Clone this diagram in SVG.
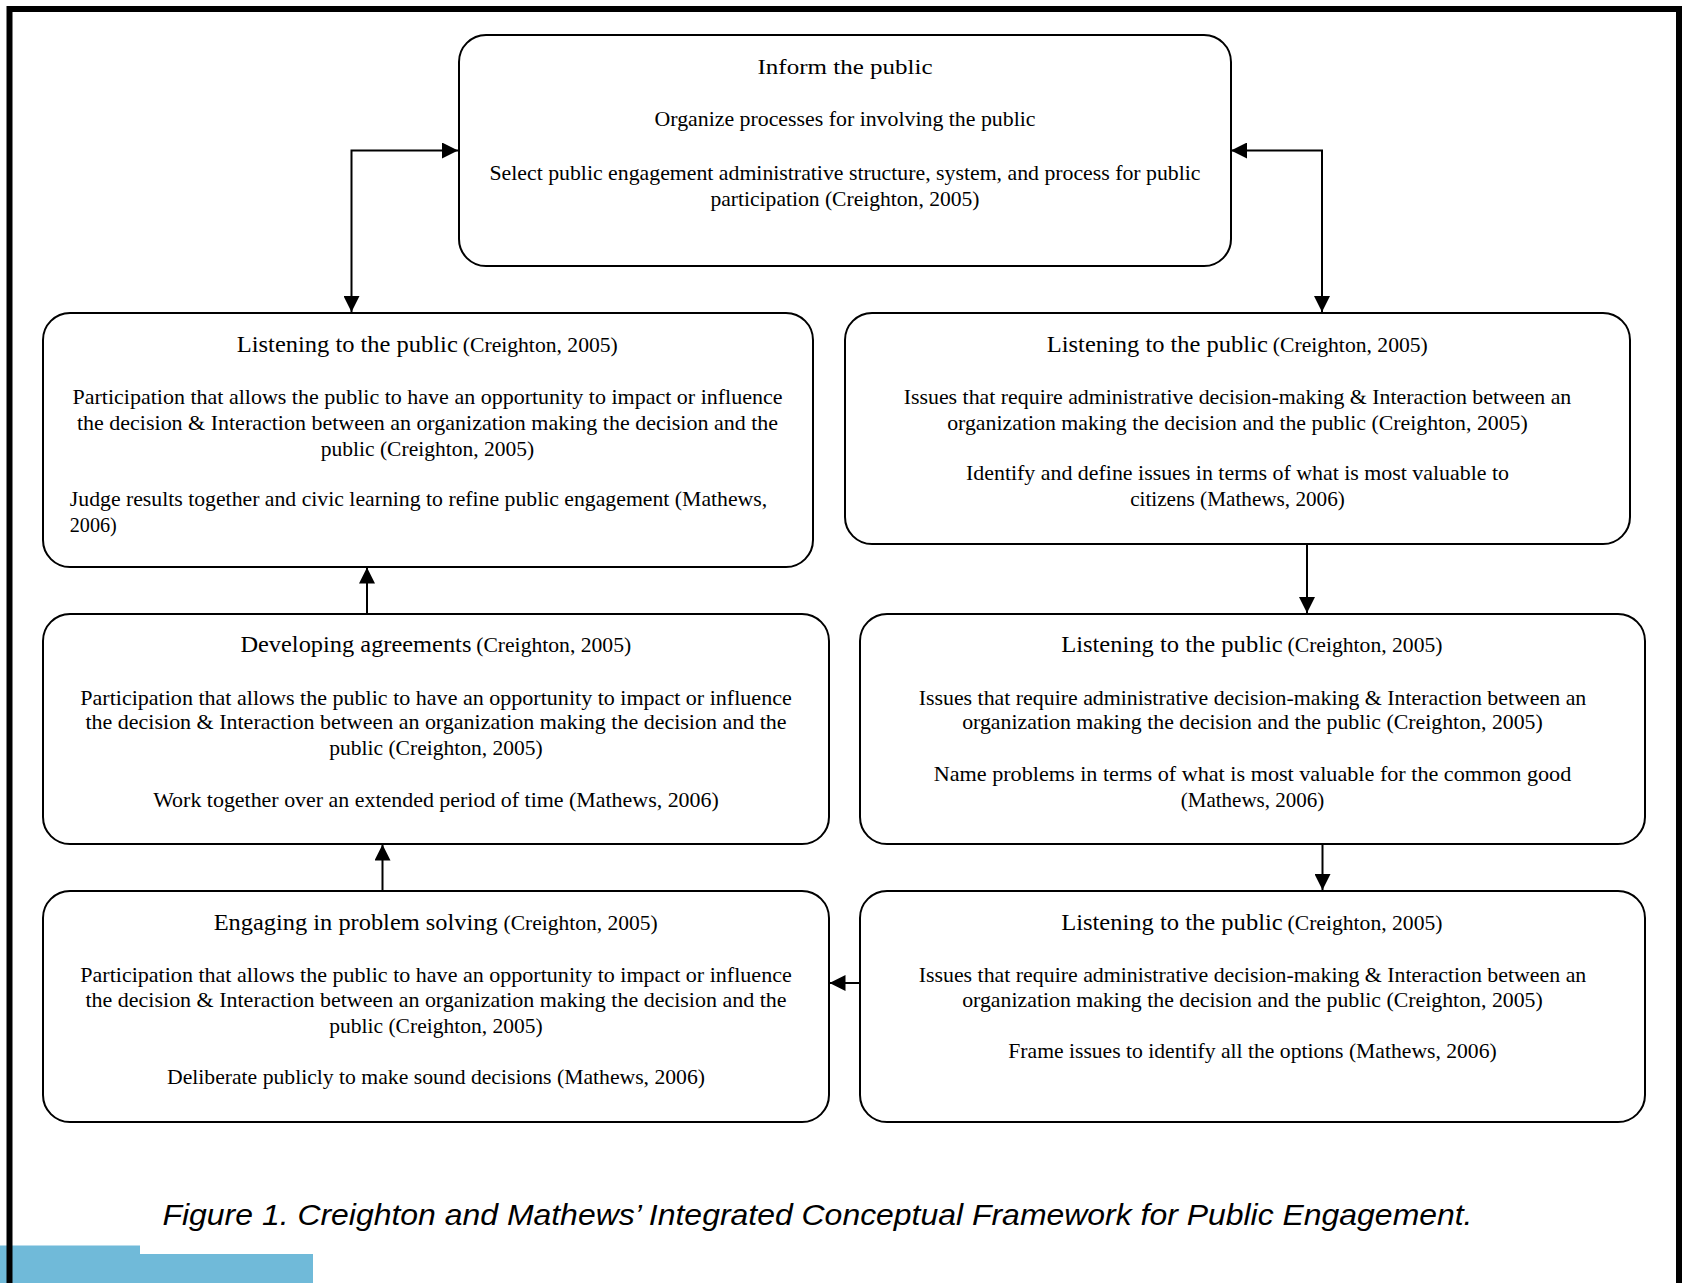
<svg xmlns="http://www.w3.org/2000/svg" width="1683" height="1283" viewBox="0 0 1683 1283">
<style>
.box{fill:#fff;stroke:#000;stroke-width:2}
.c{font-family:"Liberation Serif","Times New Roman",serif;font-size:21px;fill:#000;text-anchor:middle}
.s{font-family:"Liberation Serif","Times New Roman",serif;font-size:21px;fill:#000;text-anchor:start}
.h{font-size:24px}
.conn{fill:none;stroke:#000;stroke-width:2}
.cap{font-family:"Liberation Sans",Arial,sans-serif;font-style:italic;font-size:29px;fill:#000}
</style>
<defs>
<marker id="ah" markerUnits="userSpaceOnUse" markerWidth="16" markerHeight="16" viewBox="0 0 15 15" refX="15" refY="7.5" orient="auto-start-reverse">
<path d="M0,0 L15,7.5 L0,15 z" fill="#000"/>
</marker>
</defs>
<rect width="1683" height="1283" fill="#fff"/>
<rect x="0" y="1245.5" width="140" height="38" fill="#70bad9"/>
<rect x="140" y="1254" width="173" height="29" fill="#70bad9"/>
<path d="M9.5,1283 V9 H1679 V1283" fill="none" stroke="#000" stroke-width="6"/>

<g id="connectors">
<path class="conn" d="M458,150.5 H351.5 V312" marker-start="url(#ah)" marker-end="url(#ah)"/>
<path class="conn" d="M1231,150.5 H1322 V312" marker-start="url(#ah)" marker-end="url(#ah)"/>
<path class="conn" d="M1307,544 V613" marker-end="url(#ah)"/>
<path class="conn" d="M1322.5,844 V890" marker-end="url(#ah)"/>
<path class="conn" d="M860,983 H829.5" marker-end="url(#ah)"/>
<path class="conn" d="M382.5,891 V844.5" marker-end="url(#ah)"/>
<path class="conn" d="M367,613 V567.5" marker-end="url(#ah)"/>
</g>

<g id="inform">
<rect class="box" x="459" y="35" width="772" height="231" rx="27"/>
<text class="c" x="845" y="73.6" font-size="22" textLength="175" lengthAdjust="spacingAndGlyphs">Inform the public</text>
<text class="c" x="845" y="126.2" textLength="381" lengthAdjust="spacingAndGlyphs">Organize processes for involving the public</text>
<text class="c" x="845" y="179.9" textLength="711" lengthAdjust="spacingAndGlyphs">Select public engagement administrative structure, system, and process for public</text>
<text class="c" x="845" y="205.6" textLength="269" lengthAdjust="spacingAndGlyphs">participation (Creighton, 2005)</text>
</g>

<g id="listen-left">
<rect class="box" x="43" y="313" width="770" height="254" rx="27"/>
<text class="s" y="351.6"><tspan class="h" x="236.8" textLength="221" lengthAdjust="spacingAndGlyphs">Listening to the public</tspan><tspan x="462.8" textLength="155" lengthAdjust="spacingAndGlyphs">(Creighton, 2005)</tspan></text>
<text class="c" x="427.5" y="404.2" textLength="710" lengthAdjust="spacingAndGlyphs">Participation that allows the public to have an opportunity to impact or influence</text>
<text class="c" x="427.5" y="430" textLength="701" lengthAdjust="spacingAndGlyphs">the decision &amp; Interaction between an organization making the decision and the</text>
<text class="c" x="427.5" y="455.7" textLength="213.5" lengthAdjust="spacingAndGlyphs">public (Creighton, 2005)</text>
<text class="s" x="69.8" y="506.2" textLength="697.4" lengthAdjust="spacingAndGlyphs">Judge results together and civic learning to refine public engagement (Mathews,</text>
<text class="s" x="69.8" y="532" textLength="47" lengthAdjust="spacingAndGlyphs">2006)</text>
</g>

<g id="listen-right-1">
<rect class="box" x="845" y="313" width="785" height="231" rx="27"/>
<text class="s" y="351.6"><tspan class="h" x="1046.8" textLength="221" lengthAdjust="spacingAndGlyphs">Listening to the public</tspan><tspan x="1272.8" textLength="155" lengthAdjust="spacingAndGlyphs">(Creighton, 2005)</tspan></text>
<text class="c" x="1237.5" y="404.2" textLength="667.6" lengthAdjust="spacingAndGlyphs">Issues that require administrative decision-making &amp; Interaction between an</text>
<text class="c" x="1237.5" y="430" textLength="580.6" lengthAdjust="spacingAndGlyphs">organization making the decision and the public (Creighton, 2005)</text>
<text class="c" x="1237.5" y="480.4" textLength="543" lengthAdjust="spacingAndGlyphs">Identify and define issues in terms of what is most valuable to</text>
<text class="c" x="1237.5" y="506.2" textLength="214.7" lengthAdjust="spacingAndGlyphs">citizens (Mathews, 2006)</text>
</g>

<g id="developing">
<rect class="box" x="43" y="614" width="786" height="230" rx="27"/>
<text class="s" y="652.1"><tspan class="h" x="240.4" textLength="231" lengthAdjust="spacingAndGlyphs">Developing agreements</tspan><tspan x="476.2" textLength="155" lengthAdjust="spacingAndGlyphs">(Creighton, 2005)</tspan></text>
<text class="c" x="436" y="704.7" textLength="711.5" lengthAdjust="spacingAndGlyphs">Participation that allows the public to have an opportunity to impact or influence</text>
<text class="c" x="436" y="729.4" textLength="701" lengthAdjust="spacingAndGlyphs">the decision &amp; Interaction between an organization making the decision and the</text>
<text class="c" x="436" y="755.2" textLength="213.5" lengthAdjust="spacingAndGlyphs">public (Creighton, 2005)</text>
<text class="c" x="436" y="806.7" textLength="565.6" lengthAdjust="spacingAndGlyphs">Work together over an extended period of time (Mathews, 2006)</text>
</g>

<g id="listen-right-2">
<rect class="box" x="860" y="614" width="785" height="230" rx="27"/>
<text class="s" y="652.1"><tspan class="h" x="1061.2" textLength="221.5" lengthAdjust="spacingAndGlyphs">Listening to the public</tspan><tspan x="1287.5" textLength="155" lengthAdjust="spacingAndGlyphs">(Creighton, 2005)</tspan></text>
<text class="c" x="1252.5" y="704.7" textLength="667.6" lengthAdjust="spacingAndGlyphs">Issues that require administrative decision-making &amp; Interaction between an</text>
<text class="c" x="1252.5" y="729.4" textLength="580.6" lengthAdjust="spacingAndGlyphs">organization making the decision and the public (Creighton, 2005)</text>
<text class="c" x="1252.5" y="781" textLength="637.6" lengthAdjust="spacingAndGlyphs">Name problems in terms of what is most valuable for the common good</text>
<text class="c" x="1252.5" y="806.7" textLength="143.5" lengthAdjust="spacingAndGlyphs">(Mathews, 2006)</text>
</g>

<g id="engaging">
<rect class="box" x="43" y="891" width="786" height="231" rx="27"/>
<text class="s" y="930.1"><tspan class="h" x="213.7" textLength="284" lengthAdjust="spacingAndGlyphs">Engaging in problem solving</tspan><tspan x="503.6" textLength="154" lengthAdjust="spacingAndGlyphs">(Creighton, 2005)</tspan></text>
<text class="c" x="436" y="981.6" textLength="711.5" lengthAdjust="spacingAndGlyphs">Participation that allows the public to have an opportunity to impact or influence</text>
<text class="c" x="436" y="1007.4" textLength="701" lengthAdjust="spacingAndGlyphs">the decision &amp; Interaction between an organization making the decision and the</text>
<text class="c" x="436" y="1033.2" textLength="213.5" lengthAdjust="spacingAndGlyphs">public (Creighton, 2005)</text>
<text class="c" x="436" y="1083.6" textLength="538" lengthAdjust="spacingAndGlyphs">Deliberate publicly to make sound decisions (Mathews, 2006)</text>
</g>

<g id="listen-right-3">
<rect class="box" x="860" y="891" width="785" height="231" rx="27"/>
<text class="s" y="930.1"><tspan class="h" x="1061.2" textLength="221.5" lengthAdjust="spacingAndGlyphs">Listening to the public</tspan><tspan x="1287.5" textLength="155" lengthAdjust="spacingAndGlyphs">(Creighton, 2005)</tspan></text>
<text class="c" x="1252.5" y="981.6" textLength="667.6" lengthAdjust="spacingAndGlyphs">Issues that require administrative decision-making &amp; Interaction between an</text>
<text class="c" x="1252.5" y="1007.4" textLength="580.6" lengthAdjust="spacingAndGlyphs">organization making the decision and the public (Creighton, 2005)</text>
<text class="c" x="1252.5" y="1057.8" textLength="488.4" lengthAdjust="spacingAndGlyphs">Frame issues to identify all the options (Mathews, 2006)</text>
</g>

<text class="cap" x="162.5" y="1225" textLength="1310" lengthAdjust="spacingAndGlyphs">Figure 1. Creighton and Mathews’ Integrated Conceptual Framework for Public Engagement.</text>
</svg>
